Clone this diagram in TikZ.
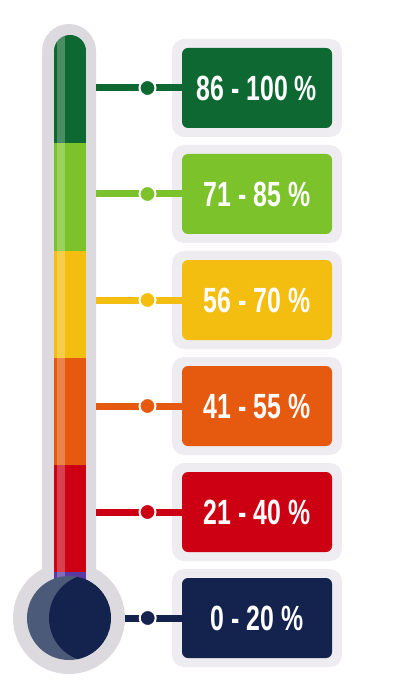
\documentclass[tikz,border=0pt]{standalone}
\usepackage{fontspec}
\newfontfamily\thermofont[FakeStretch=0.71]{Liberation Sans}
\definecolor{thermoglass}{RGB}{220,217,223}
\definecolor{thermopad}{RGB}{239,236,241}
\definecolor{thermodark}{RGB}{14,104,50}
\definecolor{thermolime}{RGB}{124,194,42}
\definecolor{thermoyellow}{RGB}{244,190,16}
\definecolor{thermoorange}{RGB}{230,90,16}
\definecolor{thermored}{RGB}{204,0,18}
\definecolor{thermonavy}{RGB}{20,34,78}
\definecolor{thermoshade}{RGB}{76,90,122}
\definecolor{thermoviolet}{RGB}{90,58,160}
\begin{document}
\begin{tikzpicture}[x=1pt,y=-1pt,
  padbox/.style={fill=thermopad,rounded corners=12pt,minimum width=170pt,minimum height=98pt,inner sep=0pt},
  bandbox/.style={rounded corners=6pt,minimum width=150pt,minimum height=80pt,inner sep=0pt,text=white,
    font=\thermofont\bfseries\fontsize{35}{35}\selectfont},
  link/.style={line width=7pt},
  pin/.style={circle,draw=white,line width=2pt,inner sep=0pt,minimum size=16pt}]
  \useasboundingbox (0,0) rectangle (400,700);
  % glass tube and bulb
  \fill[thermoglass,rounded corners=27pt] (42,24) rectangle (96,620);
  \fill[thermoglass] (69,618) circle[radius=56pt];
  \begin{scope}
    \clip[rounded corners=16pt] (54,35) rectangle (86,600);
    \fill[thermodark] (54,35) rectangle (86,143);
    \fill[thermolime] (54,143) rectangle (86,251);
    \fill[thermoyellow] (54,251) rectangle (86,358);
    \fill[thermoorange] (54,358) rectangle (86,465);
    \fill[thermored] (54,465) rectangle (86,572);
    \fill[thermoviolet] (54,572) rectangle (86,600);
    \fill[white,opacity=.25] (57,35) rectangle (65,600);
  \end{scope}
  \begin{scope}
    \clip (69,618) circle[radius=42pt];
    \fill[thermoshade] (69,618) circle[radius=42pt];
    \fill[thermonavy] (93,618) circle[radius=44pt];
  \end{scope}
  % scale labels
  \node[padbox] (pad1) at (257,88) {};
  \node[padbox] (pad2) at (257,194) {};
  \node[padbox] (pad3) at (257,300) {};
  \node[padbox] (pad4) at (257,406) {};
  \node[padbox] (pad5) at (257,512) {};
  \node[padbox] (pad6) at (257,618) {};
  \node[bandbox,fill=thermodark] (band1) at (pad1) {86 - 100 \%};
  \node[bandbox,fill=thermolime] (band2) at (pad2) {71 - 85 \%};
  \node[bandbox,fill=thermoyellow] (band3) at (pad3) {56 - 70 \%};
  \node[bandbox,fill=thermoorange] (band4) at (pad4) {41 - 55 \%};
  \node[bandbox,fill=thermored] (band5) at (pad5) {21 - 40 \%};
  \node[bandbox,fill=thermonavy] (band6) at (pad6) {0 - 20 \%};
  \coordinate (tap1) at (96,88); \coordinate (tap2) at (96,194);
  \coordinate (tap3) at (96,300); \coordinate (tap4) at (96,406);
  \coordinate (tap5) at (96,512); \coordinate (tap6) at (125,618);
  \draw[link,thermodark] (tap1) -- node[pin,fill=thermodark,pos=.6] (pin1) {} (band1);
  \draw[link,thermolime] (tap2) -- node[pin,fill=thermolime,pos=.6] (pin2) {} (band2);
  \draw[link,thermoyellow] (tap3) -- node[pin,fill=thermoyellow,pos=.6] (pin3) {} (band3);
  \draw[link,thermoorange] (tap4) -- node[pin,fill=thermoorange,pos=.6] (pin4) {} (band4);
  \draw[link,thermored] (tap5) -- node[pin,fill=thermored,pos=.6] (pin5) {} (band5);
  \draw[link,thermonavy] (tap6) -- node[pin,fill=thermonavy,pos=.4] (pin6) {} (band6);
\end{tikzpicture}
\end{document}
